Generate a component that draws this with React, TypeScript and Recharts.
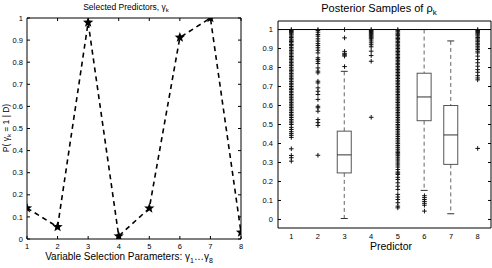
import React from "react";
import {
  LineChart,
  Line,
  XAxis,
  YAxis,
  ComposedChart,
  Bar,
  Scatter,
  ReferenceLine,
} from "recharts";

const predictors = [1, 2, 3, 4, 5, 6, 7, 8];
const inclusionProb = [0.14, 0.055, 0.98, 0.013, 0.139, 0.912, 1.0, 0.03];
const probTicks = [0, 0.1, 0.2, 0.3, 0.4, 0.5, 0.6, 0.7, 0.8, 0.9, 1];

// box plot summary per predictor
const whiskerLow = [1, 1, 0.005, 1, 1, 0.153, 0.03, 1];
const boxLow = [1, 1, 0.245, 1, 1, 0.52, 0.29, 1];
const boxMedian = [1, 1, 0.34, 1, 1, 0.645, 0.445, 1];
const boxHigh = [1, 1, 0.465, 1, 1, 0.77, 0.6, 1];
const whiskerHigh = [1, 1, 0.78, 1, 1, 1, 0.94, 1];

const outliers1 = [
  1, 0.995, 0.99, 0.985, 0.978, 0.972, 0.965, 0.958, 0.95, 0.944, 0.937, 0.93,
  0.921, 0.915, 0.906, 0.898, 0.89, 0.882, 0.875, 0.866, 0.858, 0.85, 0.843,
  0.834, 0.826, 0.818, 0.81, 0.801, 0.792, 0.785, 0.777, 0.768, 0.76, 0.751,
  0.743, 0.735, 0.726, 0.717, 0.709, 0.7, 0.691, 0.684, 0.675, 0.667, 0.658,
  0.65, 0.641, 0.633, 0.624, 0.615, 0.607, 0.598, 0.59, 0.581, 0.572, 0.563,
  0.554, 0.546, 0.537, 0.527, 0.518, 0.509, 0.5, 0.485, 0.474, 0.462, 0.452,
  0.443, 0.432, 0.372, 0.337, 0.325, 0.307,
];
const outliers2 = [
  1, 0.995, 0.986, 0.974, 0.965, 0.951, 0.939, 0.926, 0.916, 0.904, 0.891,
  0.877, 0.851, 0.842, 0.833, 0.821, 0.798, 0.781, 0.772, 0.728, 0.719, 0.693,
  0.675, 0.658, 0.632, 0.596, 0.588, 0.57, 0.526, 0.51, 0.495, 0.338,
];
const outliers3 = [1, 0.956, 0.885, 0.875, 0.87, 0.865, 0.86, 0.805];
const outliers4 = [
  1, 0.995, 0.99, 0.985, 0.98, 0.975, 0.97, 0.965, 0.96, 0.955, 0.95, 0.94,
  0.93, 0.92, 0.909, 0.886, 0.863, 0.833, 0.538,
];
const outliers5 = [
  1, 0.994, 0.988, 0.981, 0.975, 0.968, 0.96, 0.953, 0.946, 0.938, 0.931, 0.923,
  0.915, 0.908, 0.9, 0.892, 0.884, 0.877, 0.869, 0.861, 0.853, 0.846, 0.838,
  0.83, 0.822, 0.815, 0.806, 0.798, 0.79, 0.782, 0.774, 0.766, 0.758, 0.75,
  0.742, 0.733, 0.725, 0.717, 0.709, 0.7, 0.692, 0.683, 0.675, 0.667, 0.658,
  0.65, 0.641, 0.633, 0.624, 0.616, 0.607, 0.598, 0.589, 0.581, 0.572, 0.563,
  0.555, 0.546, 0.537, 0.528, 0.519, 0.51, 0.5, 0.492, 0.483, 0.474, 0.465,
  0.455, 0.446, 0.437, 0.427, 0.418, 0.408, 0.399, 0.389, 0.38, 0.37, 0.36,
  0.352, 0.345, 0.338, 0.328, 0.318, 0.308, 0.297, 0.287, 0.276, 0.263, 0.25,
  0.244, 0.237, 0.222, 0.21, 0.193, 0.175, 0.158, 0.132, 0.118, 0.105, 0.088,
  0.07, 0.061,
];
const outliers6 = [0.125, 0.115, 0.105, 0.095, 0.085, 0.075, 0.044];
const outliers7: number[] = [];
const outliers8 = [
  1, 0.995, 0.99, 0.984, 0.978, 0.972, 0.966, 0.958, 0.951, 0.944, 0.936, 0.928,
  0.92, 0.912, 0.903, 0.895, 0.886, 0.877, 0.86, 0.842, 0.825, 0.807, 0.789,
  0.775, 0.757, 0.745, 0.735, 0.374,
];
const outlierSets = [
  outliers1, outliers2, outliers3, outliers4,
  outliers5, outliers6, outliers7, outliers8,
];

const lineData = predictors.map((x, i) => ({ x, p: inclusionProb[i] }));
const boxData = predictors.map((pos, i) => ({
  pos,
  lo: whiskerLow[i],
  q1: boxLow[i],
  med: boxMedian[i],
  q3: boxHigh[i],
  hi: whiskerHigh[i],
  range: [whiskerLow[i], whiskerHigh[i]],
}));
const outlierData = outlierSets.flatMap((vals, i) =>
  vals.map((v) => ({ pos: predictors[i], v }))
);

const fmt = (v: number) => String(v);

// tick renderers: labels outside, tick marks inside the box
const LeftTick = (props: any) => {
  const { x, y, payload, fs, gap, len } = props;
  return (
    <g>
      {len > 0 && <line x1={x} x2={x + len} y1={y} y2={y} stroke="#000" />}
      <text x={x - gap} y={y} dy="0.35em" textAnchor="end" fontSize={fs} fill="#000">
        {fmt(payload.value)}
      </text>
    </g>
  );
};
const BottomTick = (props: any) => {
  const { x, y, payload, fs, gap, len } = props;
  return (
    <g>
      {len > 0 && <line x1={x} x2={x} y1={y} y2={y - len} stroke="#000" />}
      <text x={x} y={y + gap} textAnchor="middle" fontSize={fs} fill="#000">
        {fmt(payload.value)}
      </text>
    </g>
  );
};
const TopTick = (props: any) => (
  <line x1={props.x} x2={props.x} y1={props.y} y2={props.y + 3} stroke="#000" />
);
const RightTick = (props: any) => (
  <line x1={props.x} x2={props.x - 3} y1={props.y} y2={props.y} stroke="#000" />
);

const Star = ({ cx, cy }: { cx: number; cy: number }) => {
  const pts: string[] = [];
  for (let i = 0; i < 10; i++) {
    const r = i % 2 === 0 ? 5.4 : 2.3;
    const a = -Math.PI / 2 + (i * Math.PI) / 5;
    pts.push(`${cx + r * Math.cos(a)},${cy + r * Math.sin(a)}`);
  }
  return <polygon points={pts.join(" ")} fill="#000" />;
};

const Plus = (props: any) => {
  const { cx, cy } = props;
  return (
    <g stroke="#111" strokeWidth={1}>
      <line x1={cx - 2.3} x2={cx + 2.3} y1={cy} y2={cy} />
      <line x1={cx} x2={cx} y1={cy - 2.3} y2={cy + 2.3} />
    </g>
  );
};

const BoxShape = (props: any) => {
  const { x, y, width, height } = props;
  const d = props.payload ?? props;
  const span = d.hi - d.lo;
  if (!(span > 0)) return <g />;
  const py = (v: number) => y + ((d.hi - v) / span) * height;
  const cx = x + width / 2;
  const cap = width / 4;
  return (
    <g>
      <line x1={cx} x2={cx} y1={py(d.hi)} y2={py(d.q3)} stroke="#666" strokeDasharray="4 3" />
      <line x1={cx} x2={cx} y1={py(d.q1)} y2={py(d.lo)} stroke="#666" strokeDasharray="4 3" />
      <line x1={cx - cap} x2={cx + cap} y1={py(d.hi)} y2={py(d.hi)} stroke="#333" />
      <line x1={cx - cap} x2={cx + cap} y1={py(d.lo)} y2={py(d.lo)} stroke="#333" />
      <rect x={x} y={py(d.q3)} width={width} height={py(d.q1) - py(d.q3)} fill="none" stroke="#555" />
      <line x1={x} x2={x + width} y1={py(d.med)} y2={py(d.med)} stroke="#333" />
    </g>
  );
};

const centered = (cx: number, cy: number, fs: number): React.CSSProperties => ({
  position: "absolute",
  left: cx - 120,
  width: 240,
  top: cy - fs * 0.55,
  textAlign: "center",
  fontSize: fs,
  lineHeight: 1,
  whiteSpace: "nowrap",
});

export default function App() {
  return (
    <div
      style={{
        position: "absolute",
        left: 0,
        top: 0,
        width: 492,
        height: 268,
        background: "#fff",
        fontFamily: "'Liberation Sans', Arial, sans-serif",
        color: "#000",
      }}
    >
      <div style={{ position: "absolute", left: 0, top: 0 }}>
        <LineChart
          width={250}
          height={268}
          data={lineData}
          margin={{ top: 17, right: 8, bottom: 28, left: 26 }}
        >
          <XAxis
            dataKey="x"
            type="number"
            domain={[1, 8]}
            ticks={predictors}
            allowDataOverflow
            interval={0}
            height={1}
            tickSize={0}
            tickMargin={0}
            tickLine={false}
            axisLine={{ stroke: "#000" }}
            tick={(p: any) => <BottomTick {...p} fs={7.5} gap={10} len={3} />}
          />
          <XAxis
            xAxisId="top"
            orientation="top"
            type="number"
            domain={[1, 8]}
            ticks={predictors}
            allowDataOverflow
            interval={0}
            height={1}
            tickSize={0}
            tickMargin={0}
            tickLine={false}
            axisLine={{ stroke: "#000" }}
            tick={(p: any) => <TopTick {...p} />}
          />
          <YAxis
            type="number"
            domain={[0, 1]}
            ticks={probTicks}
            allowDataOverflow
            interval={0}
            width={1}
            tickSize={0}
            tickMargin={0}
            tickLine={false}
            axisLine={{ stroke: "#000" }}
            tick={(p: any) => <LeftTick {...p} fs={7.5} gap={4} len={3} />}
          />
          <YAxis
            yAxisId="right"
            orientation="right"
            type="number"
            domain={[0, 1]}
            ticks={probTicks}
            allowDataOverflow
            interval={0}
            width={1}
            tickSize={0}
            tickMargin={0}
            tickLine={false}
            axisLine={{ stroke: "#000" }}
            tick={(p: any) => <RightTick {...p} />}
          />
          <Line
            dataKey="p"
            stroke="#000"
            strokeWidth={1.6}
            strokeDasharray="5 4"
            isAnimationActive={false}
            dot={(p: any) => <Star key={p.index} cx={p.cx} cy={p.cy} />}
          />
        </LineChart>
      </div>

      <div style={{ position: "absolute", left: 250, top: 0 }}>
        <ComposedChart
          width={242}
          height={268}
          data={boxData}
          margin={{ top: 20, right: 0, bottom: 39, left: 27 }}
        >
          <XAxis
            dataKey="pos"
            type="number"
            domain={[0.5, 8.5]}
            ticks={predictors}
            allowDataOverflow
            interval={0}
            height={1}
            tickSize={0}
            tickMargin={0}
            tickLine={false}
            axisLine={{ stroke: "#000" }}
            tick={(p: any) => <BottomTick {...p} fs={7.5} gap={10.5} len={0} />}
          />
          <XAxis
            xAxisId="top"
            orientation="top"
            type="number"
            domain={[0.5, 8.5]}
            ticks={predictors}
            allowDataOverflow
            height={1}
            tickSize={0}
            tickMargin={0}
            tickLine={false}
            tick={() => <g />}
            axisLine={{ stroke: "#000" }}
          />
          <YAxis
            type="number"
            domain={[-0.045, 1.045]}
            ticks={probTicks}
            allowDataOverflow
            interval={0}
            width={1}
            tickSize={0}
            tickMargin={0}
            tickLine={false}
            axisLine={{ stroke: "#000" }}
            tick={(p: any) => <LeftTick {...p} fs={7.5} gap={5} len={3} />}
          />
          <YAxis
            yAxisId="right"
            orientation="right"
            type="number"
            domain={[-0.045, 1.045]}
            ticks={probTicks}
            allowDataOverflow
            interval={0}
            width={1}
            tickSize={0}
            tickMargin={0}
            tickLine={false}
            axisLine={{ stroke: "#000" }}
            tick={(p: any) => <RightTick {...p} />}
          />
          <Bar
            dataKey="range"
            barSize={14}
            isAnimationActive={false}
            shape={(p: any) => <BoxShape {...p} />}
          />
          <ReferenceLine y={1} stroke="#000" />
          <Scatter
            data={outlierData}
            dataKey="v"
            isAnimationActive={false}
            shape={(p: any) => <Plus {...p} />}
          />
        </ComposedChart>
      </div>

      <div style={centered(126, 8, 8.5)}>
        Selected Predictors, γ<sub style={{ fontSize: 6, verticalAlign: -2 }}>k</sub>
      </div>
      <div style={centered(379, 9.5, 11)}>
        Posterior Samples of ρ<sub style={{ fontSize: 8, verticalAlign: -3 }}>k</sub>
      </div>
      <div style={centered(129, 257.5, 10)}>
        Variable Selection Parameters: γ<sub style={{ fontSize: 7, verticalAlign: -3 }}>1</sub>…γ
        <sub style={{ fontSize: 7, verticalAlign: -3 }}>8</sub>
      </div>
      <div style={centered(391, 247, 10.5)}>Predictor</div>
      <div
        style={{
          position: "absolute",
          left: 6 - 60,
          top: 128 - 5,
          width: 120,
          height: 10,
          lineHeight: "10px",
          textAlign: "center",
          fontSize: 8.5,
          whiteSpace: "nowrap",
          transform: "rotate(-90deg)",
        }}
      >
        P( γ<sub style={{ fontSize: 6, verticalAlign: -2 }}>k</sub> = 1 | D)
      </div>
    </div>
  );
}
